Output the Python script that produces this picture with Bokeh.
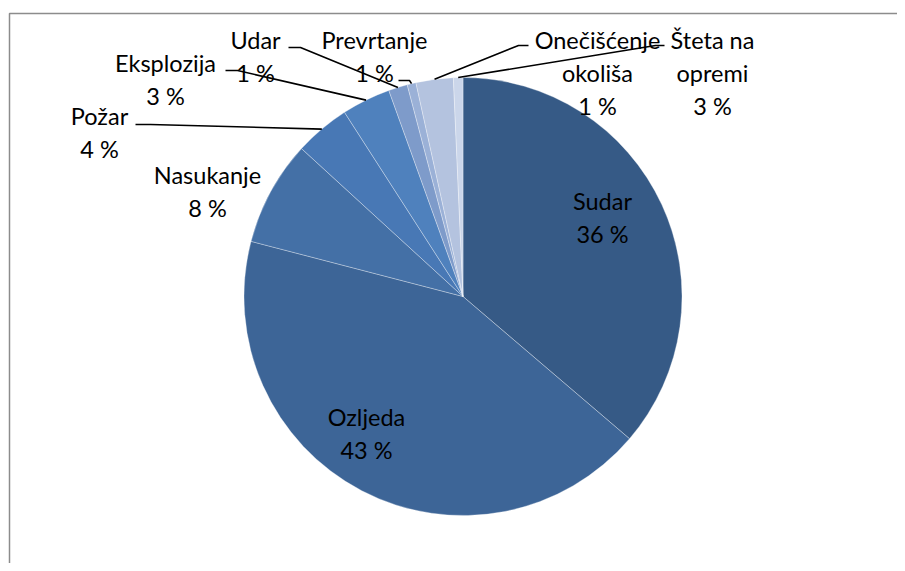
import numpy as np
from bokeh.plotting import figure
from bokeh.models import Range1d
from bokeh.core.properties import value
from bokeh.embed import file_html
from bokeh.resources import INLINE

# ---- data ----
categories = ["Sudar", "Ozljeda", "Nasukanje", "Požar", "Eksplozija",
              "Udar", "Prevrtanje", "Onečišćenje okoliša", "Šteta na opremi"]
shares = [36.25, 42.8, 7.75, 4.1, 3.6, 1.4, 0.65, 2.75, 0.7]
pct_labels = ["36 %", "43 %", "8 %", "4 %", "3 %", "1 %", "1 %", "1 %", "3 %"]
label_lines = [["Sudar"], ["Ozljeda"], ["Nasukanje"], ["Požar"], ["Eksplozija"],
               ["Udar"], ["Prevrtanje"], ["Onečišćenje", "okoliša"], ["Šteta na", "opremi"]]
colors = ["#365A86", "#3D6597", "#4470A6", "#4878B5", "#4F81BD",
          "#7E9BCA", "#9BB1D7", "#B4C3DF", "#CBD6EA"]

# ---- layout (picture pixel coordinates; y drawn as negative) ----
W, H = 897, 563
cx, cy, R = 462.5, 296.0, 219.0
label_pos = [(602, 208), (366, 424), (207, 182), (99, 123), (165, 70),
             (255, 47), (374, 47), (597, 47), (712, 47)]
text_shift = -8
line_step = 33
# leader line start points (label side) for outside labels; None = inside label
leader_start = [None, None, None,
                [(135, 124), (150, 124)],
                [(225, 70), (237, 70)],
                [(288, 47), (300, 47)],
                [(398, 80), (409, 80)],
                [(528, 45), (518, 45)],
                [(664, 45), (655, 45)]]

p = figure(width=W, height=H, output_backend="svg", toolbar_location=None,
           x_range=Range1d(0, W), y_range=Range1d(-H, 0),
           min_border=0, outline_line_color=None)
p.axis.visible = False
p.grid.visible = False
p.background_fill_color = "white"
p.border_fill_color = "white"

# chart-area border (top & left visible)
p.line(x=[9, 9, W + 10], y=[-(H + 10), -13, -13], line_color="#8C8C8C", line_width=1.5)

total = float(sum(shares))
fr = np.array(shares) / total
cum = np.concatenate([[0.0], np.cumsum(fr)])
start = np.pi / 2 - 2 * np.pi * cum[:-1]
end = np.pi / 2 - 2 * np.pi * cum[1:]
p.wedge(x=cx, y=-cy, radius=R, start_angle=start, end_angle=end, direction="clock",
        fill_color=colors, line_color="#FFFFFF", line_alpha=0.45, line_width=0.7)

mids = (cum[:-1] + cum[1:]) / 2 * 2 * np.pi
for i, pts in enumerate(leader_start):
    if pts is None:
        continue
    ex = cx + R * np.sin(mids[i])
    ey = cy - R * np.cos(mids[i])
    xs = [q[0] for q in pts] + [ex]
    ys = [-q[1] for q in pts] + [-ey]
    p.line(x=xs, y=ys, line_color="black", line_width=1.6)

tx, ty, tt = [], [], []
for i, (lx, ly) in enumerate(label_pos):
    lines = label_lines[i] + [pct_labels[i]]
    for k, s in enumerate(lines):
        tx.append(lx)
        ty.append(-(ly + text_shift + k * line_step))
        tt.append(s)
p.text(x=tx, y=ty, text=tt, text_font=value("Lato"), text_font_size="23.5px",
       text_align="center", text_baseline="alphabetic", text_color="black")

open("out.html", "w").write(file_html(p, INLINE))
